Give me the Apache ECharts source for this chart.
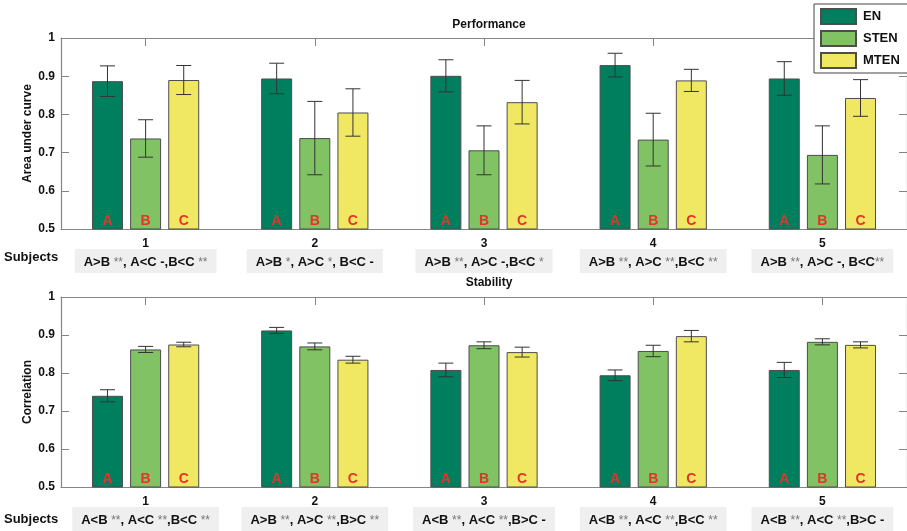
<!DOCTYPE html>
<html>
<head>
<meta charset="utf-8">
<script src="https://cdn.jsdelivr.net/npm/echarts@6/dist/echarts.min.js"></script>
<style>
html,body{margin:0;padding:0;background:#fff;}
#chart{width:907px;height:531px;}
</style>
</head>
<body>
<div id="chart"></div>
<script>
// ---- data ----
var categories = ['1', '2', '3', '4', '5'];
var seriesNames = ['EN', 'STEN', 'MTEN'];
var barLetters = ['A', 'B', 'C'];

var perfEN = [0.887, 0.894, 0.901, 0.929, 0.894];
var perfENErr = [0.040, 0.040, 0.042, 0.031, 0.044];
var perfSTEN = [0.737, 0.738, 0.706, 0.734, 0.694];
var perfSTENErr = [0.049, 0.096, 0.064, 0.069, 0.076];
var perfMTEN = [0.890, 0.805, 0.832, 0.889, 0.843];
var perfMTENErr = [0.038, 0.062, 0.057, 0.029, 0.048];

var stabEN = [0.740, 0.912, 0.808, 0.794, 0.808];
var stabENErr = [0.016, 0.008, 0.018, 0.014, 0.020];
var stabSTEN = [0.862, 0.870, 0.873, 0.858, 0.882];
var stabSTENErr = [0.008, 0.009, 0.009, 0.015, 0.008];
var stabMTEN = [0.875, 0.835, 0.855, 0.897, 0.874];
var stabMTENErr = [0.006, 0.009, 0.013, 0.015, 0.008];

var perfNotes = ['A>B **, A<C -,B<C **', 'A>B *, A>C *, B<C -', 'A>B **, A>C -,B<C *', 'A>B **, A>C **,B<C **', 'A>B **, A>C -, B<C**'];
var stabNotes = ['A<B **, A<C **,B<C **', 'A>B **, A>C **,B>C **', 'A<B **, A<C **,B>C -', 'A<B **, A<C **,B<C **', 'A<B **, A<C **,B>C -'];

var yTicks = [0.5, 0.6, 0.7, 0.8, 0.9, 1];

// ---- styles ----
var FONT = 'Liberation Sans, Arial, sans-serif';
var colors = ['#007f5f', '#80c264', '#f0e862'];
var AXIS_COLOR = '#858585';
var BAR_W = 31;
var BAR_GAP = 0.23;

var chart = echarts.init(document.getElementById('chart'));

function noteFormatter(notes) {
  return function (val, idx) {
    return notes[idx].replace(/\*+/g, function (m) { return '{s|' + m + '}'; });
  };
}

function makeGridAxes(gridIndex, notes) {
  var xs = [
    {
      type: 'category', gridIndex: gridIndex, data: categories, position: 'bottom',
      axisLine: { show: true, lineStyle: { color: AXIS_COLOR, width: 1.2 } },
      axisTick: { show: false },
      axisLabel: { interval: 0, color: '#111', fontFamily: FONT, fontWeight: 'bold', fontSize: 12, margin: 9 }
    },
    {
      type: 'category', gridIndex: gridIndex, data: categories, position: 'top',
      axisLine: { show: true, lineStyle: { color: AXIS_COLOR, width: 1.2 } },
      axisTick: { show: true, inside: true, alignWithLabel: true, interval: 0, length: 8, lineStyle: { color: AXIS_COLOR } },
      axisLabel: { show: false }
    },
    {
      type: 'category', gridIndex: gridIndex, data: categories, position: 'bottom', offset: 12,
      axisLine: { show: false }, axisTick: { show: false },
      axisLabel: {
        interval: 0, hideOverlap: false,
        margin: 8, color: '#111', fontFamily: FONT, fontWeight: 'bold', fontSize: 13, lineHeight: 15,
        backgroundColor: '#efefef', padding: [6, 9, 3, 9],
        formatter: noteFormatter(notes),
        rich: { s: { color: '#777', fontFamily: FONT, fontWeight: 'normal', fontSize: 12, lineHeight: 15 } }
      }
    }
  ];
  var ys = [
    {
      type: 'value', gridIndex: gridIndex, min: yTicks[0], max: yTicks[yTicks.length - 1], interval: 0.1,
      position: 'left', nameLocation: 'middle', nameRotate: 90, nameMoveOverlap: false,
      nameTextStyle: { color: '#111', fontFamily: FONT, fontWeight: 'bold', fontSize: 12 },
      axisLine: { show: true, lineStyle: { color: AXIS_COLOR, width: 1.2 } },
      axisTick: { show: true, inside: true, length: 8, lineStyle: { color: AXIS_COLOR } },
      splitLine: { show: false },
      axisLabel: { color: '#111', fontFamily: FONT, fontWeight: 'bold', fontSize: 12, margin: 6 }
    },
    {
      type: 'value', gridIndex: gridIndex, min: yTicks[0], max: yTicks[yTicks.length - 1], interval: 0.1,
      position: 'right',
      axisLine: { show: true, lineStyle: { color: AXIS_COLOR, width: 1.2 } },
      axisTick: { show: true, inside: true, length: 8, lineStyle: { color: AXIS_COLOR } },
      splitLine: { show: false },
      axisLabel: { show: false }
    }
  ];
  return { xs: xs, ys: ys };
}

var g0 = makeGridAxes(0, perfNotes);
var g1 = makeGridAxes(1, stabNotes);
g0.ys[0].name = 'Area under curve';
g0.ys[0].nameGap = 27;
g1.ys[0].name = 'Correlation';
g1.ys[0].nameGap = 27;

function barSeries(k, values, xAxisIndex, yAxisIndex) {
  return {
    type: 'bar', name: seriesNames[k], data: values,
    xAxisIndex: xAxisIndex, yAxisIndex: yAxisIndex,
    barWidth: BAR_W, barGap: (BAR_GAP * 100) + '%',
    itemStyle: { color: colors[k], borderColor: '#4d4d4d', borderWidth: 1 },
    label: {
      show: true, position: 'insideBottom', distance: 1,
      formatter: barLetters[k],
      color: '#e8312a', fontFamily: FONT, fontWeight: 'bold', fontSize: 14
    },
    emphasis: { disabled: true },
    z: 2
  };
}

function errSeries(k, values, errs, xAxisIndex, yAxisIndex) {
  var data = values.map(function (v, i) { return [i, v, errs[i]]; });
  var offset = (k - 1) * (BAR_W * (1 + BAR_GAP));
  return {
    type: 'custom', name: seriesNames[k] + ' err',
    xAxisIndex: xAxisIndex, yAxisIndex: yAxisIndex,
    data: data, z: 10, silent: true,
    renderItem: function (params, api) {
      var i = api.value(0), v = api.value(1), e = api.value(2);
      var hi = api.coord([i, v + e]);
      var lo = api.coord([i, v - e]);
      var x = hi[0] + offset;
      var cap = 7.5;
      var style = { stroke: '#333', lineWidth: 1 };
      return {
        type: 'group',
        children: [
          { type: 'line', shape: { x1: x, y1: hi[1], x2: x, y2: lo[1] }, style: style },
          { type: 'line', shape: { x1: x - cap, y1: hi[1], x2: x + cap, y2: hi[1] }, style: style },
          { type: 'line', shape: { x1: x - cap, y1: lo[1], x2: x + cap, y2: lo[1] }, style: style }
        ]
      };
    }
  };
}

var perfVals = [perfEN, perfSTEN, perfMTEN];
var perfErrs = [perfENErr, perfSTENErr, perfMTENErr];
var stabVals = [stabEN, stabSTEN, stabMTEN];
var stabErrs = [stabENErr, stabSTENErr, stabMTENErr];

var series = [];
for (var k = 0; k < 3; k++) series.push(barSeries(k, perfVals[k], 0, 0));
for (var k2 = 0; k2 < 3; k2++) series.push(errSeries(k2, perfVals[k2], perfErrs[k2], 0, 0));
for (var k3 = 0; k3 < 3; k3++) series.push(barSeries(k3, stabVals[k3], 3, 2));
for (var k4 = 0; k4 < 3; k4++) series.push(errSeries(k4, stabVals[k4], stabErrs[k4], 3, 2));

var option = {
  animation: false,
  backgroundColor: '#fff',
  title: [
    { text: 'Performance', left: 484, top: 14, textAlign: 'center',
      textStyle: { color: '#111', fontFamily: FONT, fontWeight: 'bold', fontSize: 12 } },
    { text: 'Stability', left: 484, top: 272, textAlign: 'center',
      textStyle: { color: '#111', fontFamily: FONT, fontWeight: 'bold', fontSize: 12 } }
  ],
  legend: {
    data: seriesNames, orient: 'vertical', left: 814, top: 4,
    backgroundColor: '#fff', borderColor: '#444', borderWidth: 1,
    padding: [4, 8, 4, 6], itemWidth: 35, itemHeight: 15, itemGap: 5,
    icon: 'rect', selectedMode: false, z: 20,
    textStyle: { color: '#111', fontFamily: FONT, fontWeight: 'bold', fontSize: 13, padding: [0, 0, 0, 2] }
  },
  grid: [
    { left: 61, top: 38, width: 847, height: 191 },
    { left: 61, top: 297, width: 847, height: 190 }
  ],
  xAxis: g0.xs.concat(g1.xs),
  yAxis: g0.ys.concat(g1.ys),
  graphic: [
    { type: 'text', left: 4, top: 251, style: { text: 'Subjects', fill: '#111', font: 'bold 13px ' + FONT } },
    { type: 'text', left: 4, top: 513, style: { text: 'Subjects', fill: '#111', font: 'bold 13px ' + FONT } }
  ],
  series: series
};
chart.setOption(option);
</script>
</body>
</html>
